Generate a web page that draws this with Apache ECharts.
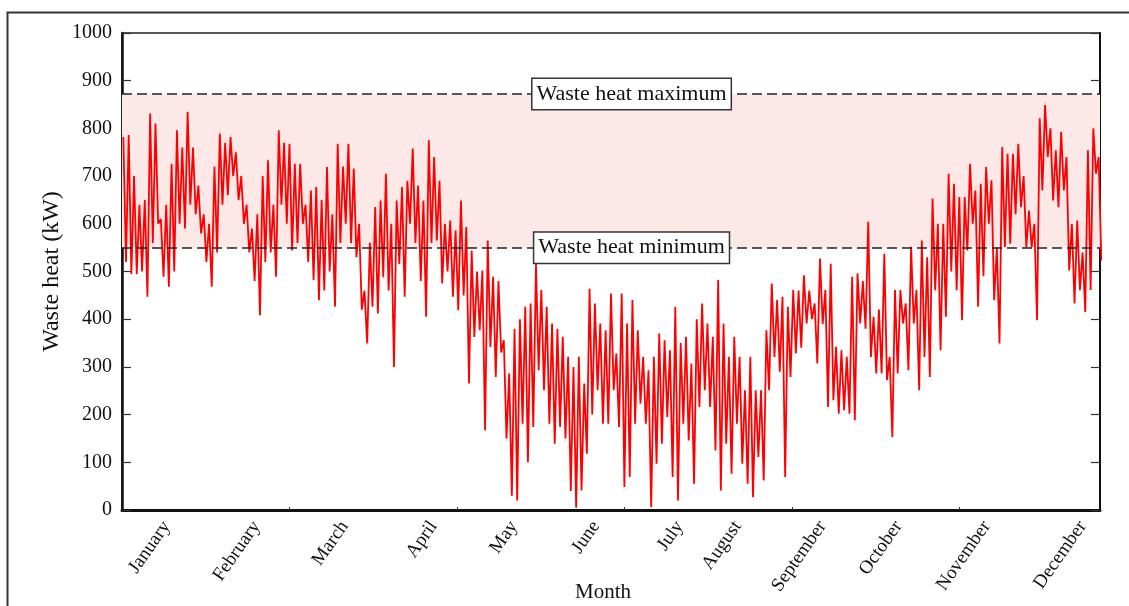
<!DOCTYPE html>
<html><head><meta charset="utf-8">
<script src="https://cdn.jsdelivr.net/npm/echarts@6/dist/echarts.min.js"></script>
<style>html,body{margin:0;padding:0;background:#fff}#c{width:1129px;height:606px}</style>
</head><body><div id="c"></div>
<script>
// ---- data ----
const months = ['January','February','March','April','May','June','July','August','September','October','November','December'];
const monthLabelHours = [400,1205,1995,2790,3510,4245,4995,5515,6275,6955,7745,8605];
const xTickHours = [1500,3000,4500,6000,7500];
const blockHours = 48; // each entry below = one 2-day block (local high / local low, kW)
const blockHigh = [
 782,786,700,640,650,831,810,610,640,726,796,760,835,760,680,620,600,720,789,770,782,750,700,640,590,620,700,733,640,796,770,
 768,726,726,640,670,677,650,719,620,768,720,768,716,600,460,560,635,649,705,600,649,677,690,758,680,649,775,740,690,600,607,
 586,649,593,544,500,502,565,489,480,356,286,380,400,426,433,516,461,426,391,380,363,321,300,321,265,464,433,391,377,454,
 328,454,391,440,377,321,293,321,370,356,335,426,350,363,307,400,433,391,363,482,391,321,363,321,251,321,251,251,377,475,
 440,447,426,461,460,492,460,433,527,461,516,342,335,321,489,496,480,604,405,420,537,321,461,461,433,552,461,565,530,653,600,
 600,705,684,656,656,726,670,684,719,691,550,761,747,747,768,700,628,600,821,849,800,754,793,740,600,607,540,754,800,740
];
const blockLow = [
 520,495,495,500,447,560,600,489,468,500,600,590,640,620,580,520,468,540,640,660,700,650,600,540,480,408,520,540,489,640,600,
 544,560,600,520,482,440,460,500,426,560,600,560,530,420,349,426,412,488,460,300,516,447,600,560,480,405,560,565,475,500,447,
 419,450,265,363,377,167,342,279,330,150,30,20,181,100,174,293,251,181,139,174,150,40,5,41,118,200,251,181,181,251,
 174,48,69,181,223,181,6,97,139,195,69,20,181,146,55,216,251,216,125,41,139,76,181,97,55,27,111,62,251,321,
 290,69,279,328,340,391,400,307,390,216,230,202,209,202,188,391,380,321,286,286,272,153,286,391,293,391,251,321,279,461,335,
 405,500,461,398,544,600,426,490,600,440,349,551,558,620,635,551,551,398,670,740,649,635,670,502,433,461,415,461,705,523
];
const wasteHeatMin = 550;
const wasteHeatMax = 872;
const refLabels = ['Waste heat maximum','Waste heat minimum'];
const refLabelHour = 4564;

// ---- build series table ----
const lineData = [];
for (let i = 0; i < blockHigh.length; i++) {
  lineData.push([i*blockHours + 12, blockHigh[i]]);
  lineData.push([i*blockHours + 36, blockLow[i]]);
}

const serif = 'Liberation Serif, Times New Roman, serif';
const chart = echarts.init(document.getElementById('c'), null, {renderer:'canvas'});
chart.setOption({
  animation: false,
  backgroundColor: '#fff',
  graphic: [{
    type: 'rect', left: 5, top: 10, shape: {x:0, y:0, width: 1200, height: 700},
    style: {fill: 'none', stroke: '#333', lineWidth: 2}, silent: true, z: 100
  }],
  grid: {left: 122, right: 29, top: 33, bottom: 96, outerBoundsMode: 'none', containLabel: false,
    show: true, borderColor: '#222', borderWidth: 1.5, backgroundColor: 'transparent'},
  xAxis: {
    type: 'value', min: 0, max: 8760,
    name: 'Month', nameLocation: 'middle', nameGap: 72, nameMoveOverlap: false,
    nameTextStyle: {fontFamily: serif, fontSize: 21, color: '#111', padding: [0, 16, 0, 0]},
    axisLine: {show: true, lineStyle: {color: '#111', width: 3}},
    axisTick: {show: true, inside: true, length: 3, customValues: xTickHours, lineStyle: {color: '#333'}},
    axisLabel: {
      show: true, customValues: monthLabelHours, rotate: 55, margin: 13,
      formatter: v => months[monthLabelHours.indexOf(v)],
      fontFamily: serif, fontSize: 19, color: '#111'
    },
    splitLine: {show: false}
  },
  yAxis: [{
    type: 'value', min: 0, max: 1000, interval: 100, position: 'left',
    name: 'Waste heat (kW)', nameLocation: 'middle', nameGap: 58, nameRotate: 90, nameMoveOverlap: false,
    nameTextStyle: {fontFamily: serif, fontSize: 24, color: '#111'},
    axisLine: {show: true, lineStyle: {color: '#111', width: 2.5}},
    axisTick: {show: true, inside: true, length: 9, lineStyle: {color: '#333', width: 1.2}},
    axisLabel: {fontFamily: serif, fontSize: 20, color: '#111', margin: 10, formatter: v => String(v)},
    splitLine: {show: false}
  }, {
    type: 'value', min: 0, max: 1000, interval: 100, position: 'right',
    axisLine: {show: true, lineStyle: {color: '#111', width: 2}},
    axisTick: {show: true, inside: true, length: 9, lineStyle: {color: '#333', width: 1.2}},
    axisLabel: {show: false},
    splitLine: {show: false}
  }],
  series: [{
    type: 'line', data: [], z: 1, silent: true,
    markArea: {silent: true, itemStyle: {color: '#fde8e8'},
      data: [[{yAxis: wasteHeatMin}, {yAxis: wasteHeatMax}]]}
  }, {
    type: 'line', data: lineData, z: 2, symbol: 'none', silent: true,
    lineStyle: {color: '#ff0000', width: 1.8}
  }, {
    type: 'line', data: [], z: 3, silent: true,
    markLine: {silent: true, symbol: 'none', label: {show: false},
      lineStyle: {color: '#222', width: 1.5, type: [10, 5]},
      data: [{yAxis: wasteHeatMin}, {yAxis: wasteHeatMax}]},
    markPoint: {silent: true, symbol: 'rect', symbolSize: 1, itemStyle: {color: 'rgba(0,0,0,0)'},
      label: {show: true, position: 'inside', formatter: p => p.name,
        fontFamily: serif, fontSize: 22, lineHeight: 24, color: '#111',
        backgroundColor: '#fff', borderColor: '#333', borderWidth: 1.5, padding: [3, 4, 3, 4]},
      data: [{name: refLabels[0], coord: [refLabelHour, wasteHeatMax]},
             {name: refLabels[1], coord: [refLabelHour, wasteHeatMin]}]}
  }]
});
</script></body></html>
